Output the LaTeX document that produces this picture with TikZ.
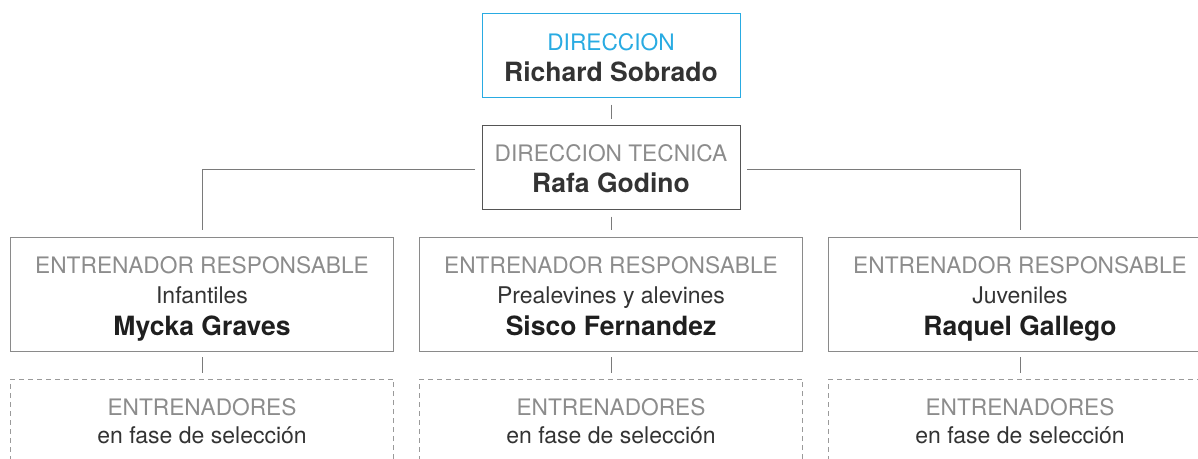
\documentclass[tikz,border=0pt]{standalone}
\usepackage{fontspec}
\setmainfont{TeX Gyre Heros}
\definecolor{cyanb}{HTML}{29ABE2}
\definecolor{capgray}{HTML}{8C8C8C}
\definecolor{darktxt}{HTML}{333333}
\definecolor{boxgray}{HTML}{8A8A8A}
\definecolor{boxdark}{HTML}{555555}
\definecolor{linegray}{HTML}{7A7A7A}
\definecolor{dashgray}{HTML}{9A9A9A}
\tikzset{
  box/.style={draw=boxgray, rectangle, inner sep=0pt, outer sep=0pt, line width=1pt},
  dbox/.style={box, draw=dashgray, dash pattern=on 5pt off 4pt},
  conn/.style={draw=linegray, line width=1pt, shorten <=7pt, shorten >=7pt},
  captxt/.style={font=\fontsize{22.7}{27}\selectfont, text=capgray, anchor=base, inner sep=0pt},
  regtxt/.style={font=\fontsize{23}{27}\selectfont, text=darktxt, anchor=base, inner sep=0pt},
  boldtxt/.style={font=\fontsize{26.5}{31}\selectfont\bfseries, text=darktxt, anchor=base, inner sep=0pt}
}
\begin{document}
\begin{tikzpicture}[x=1pt,y=-1pt]
\useasboundingbox (0,0) rectangle (1198,458);
\clip (0,0) rectangle (1198,458);
% boxes
\node[box, draw=cyanb, minimum width=258pt, minimum height=84pt] (d1) at (611,55.5) {};
\node[box, draw=boxdark, minimum width=258pt, minimum height=84pt] (d2) at (611,167.5) {};
\node[box, minimum width=383pt, minimum height=114pt] (r1) at (202,294) {};
\node[box, minimum width=383pt, minimum height=114pt] (r2) at (611,294) {};
\node[box, minimum width=383pt, minimum height=114pt] (r3) at (1020,294) {};
\node[dbox, minimum width=383pt, minimum height=120pt] (e1) at (202,439) {};
\node[dbox, minimum width=383pt, minimum height=120pt] (e2) at (611,439) {};
\node[dbox, minimum width=383pt, minimum height=120pt] (e3) at (1020,439) {};
% texts
\node[captxt, text=cyanb] (t1a) at (611,50) {DIRECCION};
\node[boldtxt] (t1b) at (611,81.5) {Richard Sobrado};
\node[captxt] (t2a) at (611,161.5) {DIRECCION TECNICA};
\node[boldtxt] (t2b) at (611,192) {Rafa Godino};
\node[captxt] (r1a) at (202,273) {ENTRENADOR RESPONSABLE};
\node[regtxt] (r1b) at (202,303) {Infantiles};
\node[boldtxt, text=black!88] (r1c) at (202,335) {Mycka Graves};
\node[captxt] (r2a) at (611,273) {ENTRENADOR RESPONSABLE};
\node[regtxt] (r2b) at (611,303) {Prealevines y alevines};
\node[boldtxt, text=black!88] (r2c) at (611,335) {Sisco Fernandez};
\node[captxt] (r3a) at (1020,273) {ENTRENADOR RESPONSABLE};
\node[regtxt] (r3b) at (1020,303) {Juveniles};
\node[boldtxt, text=black!88] (r3c) at (1020,335) {Raquel Gallego};
\node[captxt] (e1a) at (202,415) {ENTRENADORES};
\node[regtxt] (e1b) at (202,443) {en fase de selección};
\node[captxt] (e2a) at (611,415) {ENTRENADORES};
\node[regtxt] (e2b) at (611,443) {en fase de selección};
\node[captxt] (e3a) at (1020,415) {ENTRENADORES};
\node[regtxt] (e3b) at (1020,443) {en fase de selección};
% connectors
\draw[conn] (d1.south) -- (d2.north);
\draw[conn] (d2.south) -- (r2.north);
\draw[conn] ([yshift=-2pt]d2.west) -| (r1.north);
\draw[conn] ([yshift=-2pt]d2.east) -| (r3.north);
\draw[conn, shorten <=6pt, shorten >=6pt] (r1.south) -- (e1.north);
\draw[conn, shorten <=6pt, shorten >=6pt] (r2.south) -- (e2.north);
\draw[conn, shorten <=6pt, shorten >=6pt] (r3.south) -- (e3.north);
\end{tikzpicture}
\end{document}
